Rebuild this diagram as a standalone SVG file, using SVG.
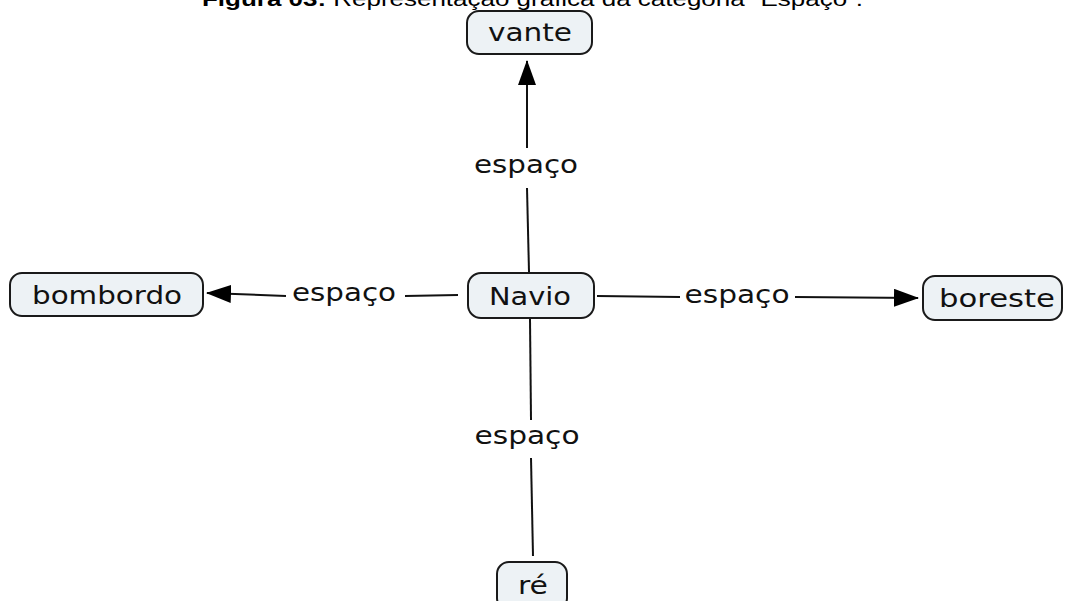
<svg xmlns="http://www.w3.org/2000/svg" width="1067" height="601" viewBox="0 0 1067 601">
<style>
.node rect{fill:#edf2f5;stroke:#1a1a1a;stroke-width:2}
.node text,.lbl{font-family:"DejaVu Sans",sans-serif;font-size:24px;fill:#111;text-anchor:middle}
.conn line{stroke:#111;stroke-width:2}
.title{font-family:"Liberation Sans",Arial,sans-serif;font-size:21px;fill:#000}
</style>
<defs>
<marker id="ah" markerWidth="26" markerHeight="18" refX="24" refY="9" orient="auto" markerUnits="userSpaceOnUse">
<path d="M0,0 L25,9 L0,18 Z" fill="#000"/>
</marker>
</defs>
<rect width="1067" height="601" fill="#fff"/>
<text class="title" x="202" y="6" textLength="661" lengthAdjust="spacingAndGlyphs"><tspan font-weight="bold">Figura 03:</tspan> Representação gráfica da categoria “Espaço”.</text>
<g class="conn" id="connectors">
<line x1="529" y1="272" x2="527" y2="188"/>
<line x1="527" y1="148" x2="527" y2="61" marker-end="url(#ah)"/>
<line x1="458" y1="295" x2="405" y2="296"/>
<line x1="286" y1="296" x2="207" y2="293" marker-end="url(#ah)"/>
<line x1="597" y1="296" x2="680" y2="297"/>
<line x1="795" y1="297" x2="918" y2="298" marker-end="url(#ah)"/>
<line x1="530" y1="319" x2="531" y2="420"/>
<line x1="531" y1="458" x2="533" y2="556"/>
</g>
<g id="lbl-up"><text class="lbl" x="526" y="173" textLength="104" lengthAdjust="spacingAndGlyphs">espaço</text></g>
<g id="lbl-left"><text class="lbl" x="344" y="301" textLength="104" lengthAdjust="spacingAndGlyphs">espaço</text></g>
<g id="lbl-right"><text class="lbl" x="737" y="303" textLength="105" lengthAdjust="spacingAndGlyphs">espaço</text></g>
<g id="lbl-down"><text class="lbl" x="527" y="444" textLength="105" lengthAdjust="spacingAndGlyphs">espaço</text></g>
<g class="node" id="vante"><rect x="467" y="11" width="125" height="43" rx="12"/><text x="530" y="41" textLength="84" lengthAdjust="spacingAndGlyphs">vante</text></g>
<g class="node" id="navio"><rect x="468" y="273" width="126" height="45" rx="13"/><text x="530" y="305" textLength="82" lengthAdjust="spacingAndGlyphs">Navio</text></g>
<g class="node" id="bombordo"><rect x="10" y="273" width="193" height="43" rx="12"/><text x="107" y="304" textLength="150" lengthAdjust="spacingAndGlyphs">bombordo</text></g>
<g class="node" id="boreste"><rect x="923" y="276" width="139" height="44" rx="12"/><text x="997" y="307" textLength="116" lengthAdjust="spacingAndGlyphs">boreste</text></g>
<g class="node" id="re"><rect x="497" y="562" width="70" height="48" rx="12"/><text x="533" y="594" textLength="30" lengthAdjust="spacingAndGlyphs">ré</text></g>
</svg>
